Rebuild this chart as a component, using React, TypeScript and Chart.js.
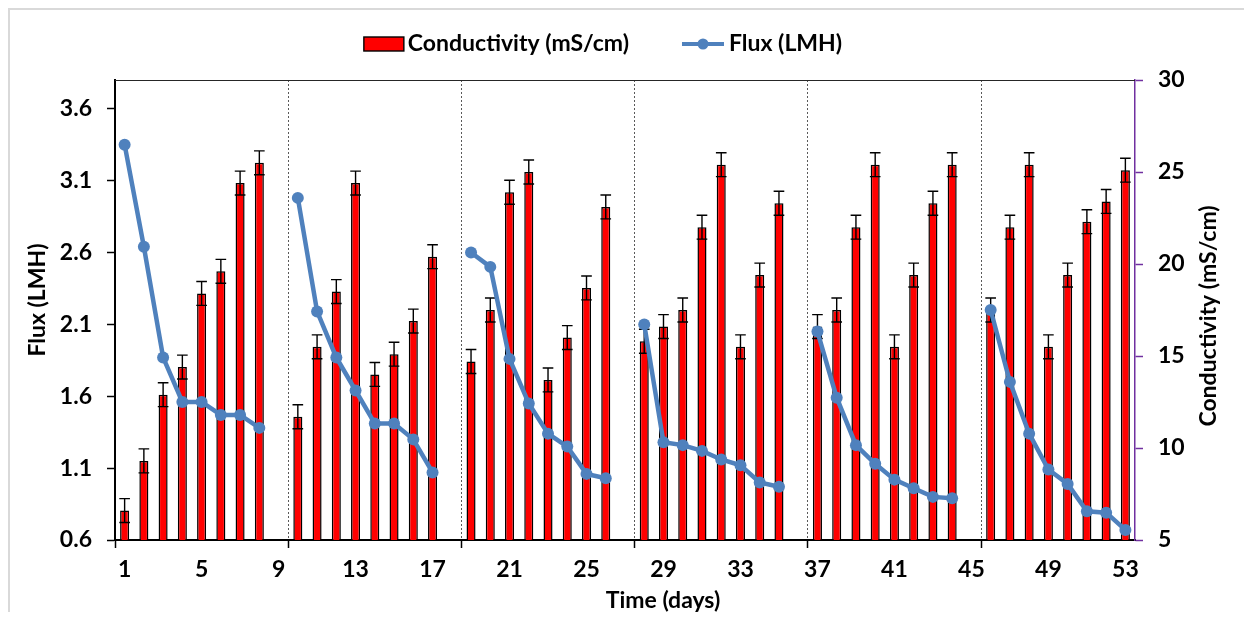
import React, { useEffect, useRef } from 'react';
import { Chart, registerables } from 'chart.js';

Chart.register(...registerables);

// ---------- data ----------
const DAYS = [
  '1', '2', '3', '4', '5', '6', '7', '8', '9', '10',
  '11', '12', '13', '14', '15', '16', '17', '18', '19', '20',
  '21', '22', '23', '24', '25', '26', '27', '28', '29', '30',
  '31', '32', '33', '34', '35', '36', '37', '38', '39', '40',
  '41', '42', '43', '44', '45', '46', '47', '48', '49', '50',
  '51', '52', '53',
];

const CONDUCTIVITY = [
  6.6, 9.3, 12.9, 14.4, 18.4, 19.6, 24.4, 25.5, null,
  11.7, 15.5, 18.5, 24.4, 14.0, 15.1, 16.9, 20.4, null,
  14.7, 17.5, 23.9, 25.0, 13.7, 16.0, 18.7, 23.1, null,
  15.8, 16.6, 17.5, 22.0, 25.4, 15.5, 19.4, 23.3, null,
  16.6, 17.5, 22.0, 25.4, 15.5, 19.4, 23.3, 25.4, null,
  17.5, 22.0, 25.4, 15.5, 19.4, 22.3, 23.4, 25.1,
];

const COND_ERROR = [
  0.65, 0.65, 0.65, 0.65, 0.65, 0.65, 0.65, 0.65, null,
  0.65, 0.65, 0.65, 0.65, 0.65, 0.65, 0.65, 0.65, null,
  0.65, 0.65, 0.65, 0.65, 0.65, 0.65, 0.65, 0.65, null,
  0.65, 0.65, 0.65, 0.65, 0.65, 0.65, 0.65, 0.65, null,
  0.65, 0.65, 0.65, 0.65, 0.65, 0.65, 0.65, 0.65, null,
  0.65, 0.65, 0.65, 0.65, 0.65, 0.65, 0.65, 0.65,
];

const FLUX = [
  3.35, 2.64, 1.87, 1.56, 1.56, 1.47, 1.47, 1.38, null,
  2.98, 2.19, 1.87, 1.64, 1.41, 1.41, 1.30, 1.07, null,
  2.60, 2.50, 1.86, 1.55, 1.34, 1.25, 1.06, 1.03, null,
  2.10, 1.28, 1.26, 1.22, 1.16, 1.12, 1.00, 0.97, null,
  2.05, 1.59, 1.26, 1.13, 1.02, 0.96, 0.90, 0.89, null,
  2.20, 1.70, 1.34, 1.09, 0.99, 0.80, 0.79, 0.67,
];

const FLUX_TICKS = [0.6, 1.1, 1.6, 2.1, 2.6, 3.1, 3.6];
const COND_TICKS = [5, 10, 15, 20, 25, 30];

const COND_LABEL = 'Conductivity (mS/cm)';
const FLUX_LABEL = 'Flux (LMH)';
const X_TITLE = 'Time (days)';

// ---------- styles ----------
const FONT = 'Lato';
const FS = 23;
const RED = '#FF0000';
const BLUE = '#4F81BD';
const PURPLE = '#7030A0';
const LABEL_EVERY = 4;
const GROUP_SIZE = 9;

const decorPlugin = {
  id: 'decor',
  beforeDraw(chart: any) {
    const { ctx, width, height } = chart;
    ctx.save();
    ctx.fillStyle = '#FFFFFF';
    ctx.fillRect(0, 0, width, height);
    ctx.strokeStyle = '#D9D9D9';
    ctx.lineWidth = 2;
    ctx.beginPath();
    ctx.moveTo(1, height);
    ctx.lineTo(1, 1);
    ctx.lineTo(width, 1);
    ctx.stroke();
    ctx.restore();
  },
  afterDatasetDraw(chart: any, args: any) {
    if (args.index !== 0) return;
    const meta = chart.getDatasetMeta(0);
    const yScale = chart.scales.yCond;
    const ctx = chart.ctx;
    ctx.save();
    ctx.strokeStyle = '#000000';
    ctx.lineWidth = 1.4;
    meta.data.forEach((bar: any, i: number) => {
      const v = CONDUCTIVITY[i];
      const e = COND_ERROR[i];
      if (v == null || e == null) return;
      const { x, width } = bar.getProps(['x', 'width'], true);
      const half = width / 2 + 0.8;
      const yTop = yScale.getPixelForValue(v + e);
      const yBot = yScale.getPixelForValue(v - e);
      ctx.beginPath();
      ctx.moveTo(x, yTop);
      ctx.lineTo(x, yBot);
      ctx.moveTo(x - half, yTop);
      ctx.lineTo(x + half, yTop);
      ctx.moveTo(x - half, yBot);
      ctx.lineTo(x + half, yBot);
      ctx.stroke();
    });
    ctx.restore();
  },
  afterDraw(chart: any) {
    const { ctx, chartArea } = chart;
    const { left, right, top, bottom } = chartArea;
    ctx.save();
    // top frame line of plot area
    ctx.strokeStyle = '#262626';
    ctx.lineWidth = 1;
    ctx.beginPath();
    ctx.moveTo(left, Math.round(top) + 0.5);
    ctx.lineTo(right, Math.round(top) + 0.5);
    ctx.stroke();

    ctx.fillStyle = '#000000';
    ctx.font = `bold ${FS}px ${FONT}`;
    ctx.textBaseline = 'middle';

    // legend
    const ly = top - 36;
    const w1 = ctx.measureText(COND_LABEL).width;
    const w2 = ctx.measureText(FLUX_LABEL).width;
    const boxW = 40, boxH = 14, gapBox = 4, gapItems = 53, lineW = 42, gapLine = 5;
    const total = boxW + gapBox + w1 + gapItems + lineW + gapLine + w2;
    const x0 = chart.width / 2 - 23 - total / 2;
    ctx.fillStyle = RED;
    ctx.fillRect(x0, ly - boxH / 2, boxW, boxH);
    ctx.strokeStyle = '#000000';
    ctx.lineWidth = 1.4;
    ctx.strokeRect(x0, ly - boxH / 2, boxW, boxH);
    ctx.fillStyle = '#000000';
    ctx.textAlign = 'left';
    ctx.fillText(COND_LABEL, x0 + boxW + gapBox, ly);
    const x1 = x0 + boxW + gapBox + w1 + gapItems;
    ctx.strokeStyle = BLUE;
    ctx.lineWidth = 4;
    ctx.beginPath();
    ctx.moveTo(x1, ly);
    ctx.lineTo(x1 + lineW, ly);
    ctx.stroke();
    ctx.fillStyle = BLUE;
    ctx.beginPath();
    ctx.arc(x1 + lineW / 2, ly, 5.5, 0, Math.PI * 2);
    ctx.fill();
    ctx.fillStyle = '#000000';
    ctx.fillText(FLUX_LABEL, x1 + lineW + gapLine, ly);

    // axis titles
    ctx.textAlign = 'center';
    ctx.fillText(X_TITLE, (left + right) / 2 + 38, chart.height - 11);
    const cy = (top + bottom) / 2;
    ctx.save();
    ctx.translate(left - 77, cy - 10);
    ctx.rotate(-Math.PI / 2);
    ctx.fillText(FLUX_LABEL, 0, 0);
    ctx.restore();
    ctx.save();
    ctx.translate(right + 74, cy + 6);
    ctx.rotate(-Math.PI / 2);
    ctx.fillText(COND_LABEL, 0, 0);
    ctx.restore();
    ctx.restore();
  },
};

export default function App() {
  const ref = useRef<HTMLCanvasElement | null>(null);

  useEffect(() => {
    if (!ref.current) return;
    const tickFont = { family: FONT, size: FS, weight: 'bold' as const };
    const chart = new Chart(ref.current, {
      type: 'bar',
      data: {
        labels: DAYS,
        datasets: [
          {
            type: 'bar',
            label: COND_LABEL,
            data: CONDUCTIVITY as any,
            yAxisID: 'yCond',
            backgroundColor: RED,
            borderColor: '#000000',
            borderWidth: 1.5,
            barPercentage: 0.47,
            categoryPercentage: 1,
            order: 2,
          },
          {
            type: 'line',
            label: FLUX_LABEL,
            data: FLUX as any,
            yAxisID: 'yFlux',
            borderColor: BLUE,
            backgroundColor: BLUE,
            borderWidth: 4.5,
            pointRadius: 6,
            pointHoverRadius: 6,
            pointBackgroundColor: BLUE,
            pointBorderColor: BLUE,
            pointBorderWidth: 0,
            tension: 0,
            spanGaps: false,
            order: 1,
          } as any,
        ],
      },
      options: {
        responsive: false,
        maintainAspectRatio: false,
        animation: false,
        layout: { padding: { top: 72, left: 0, right: 0, bottom: 0 } },
        plugins: {
          legend: { display: false },
          tooltip: { enabled: false },
        },
        scales: {
          x: {
            type: 'category',
            offset: true,
            grid: {
              display: true,
              offset: true,
              drawOnChartArea: true,
              lineWidth: 1,
              color: (c: any) =>
                c.index !== undefined && c.index > 0 && c.index % GROUP_SIZE === 0
                  ? '#595959'
                  : 'rgba(0,0,0,0)',
              tickLength: 8,
              tickWidth: 1.5,
              tickColor: (c: any) =>
                c.index !== undefined && c.index % GROUP_SIZE === 0 ? '#000000' : 'rgba(0,0,0,0)',
            },
            border: { display: true, color: '#000000', width: 2, dash: [2, 2] },
            ticks: {
              autoSkip: false,
              maxRotation: 0,
              minRotation: 0,
              padding: 8,
              color: '#000000',
              font: tickFont,
              callback: (_v: any, i: number) => (i % LABEL_EVERY === 0 ? DAYS[i] : ''),
            },
            afterFit: (s: any) => {
              s.height = 72;
            },
          },
          yFlux: {
            type: 'linear',
            position: 'left',
            min: 0.6,
            max: 3.8,
            afterBuildTicks: (s: any) => {
              s.ticks = FLUX_TICKS.map((v) => ({ value: v }));
            },
            grid: {
              drawOnChartArea: false,
              color: '#000000',
              tickLength: 8,
              tickWidth: 1.5,
            },
            border: { display: true, color: '#000000', width: 2 },
            ticks: {
              padding: 15,
              color: '#000000',
              font: tickFont,
              callback: (v: any) => Number(v).toFixed(1),
            },
            afterFit: (s: any) => {
              s.width = 107;
            },
          },
          yCond: {
            type: 'linear',
            position: 'right',
            min: 5,
            max: 30,
            afterBuildTicks: (s: any) => {
              s.ticks = COND_TICKS.map((v) => ({ value: v }));
            },
            grid: {
              drawOnChartArea: false,
              color: PURPLE,
              tickLength: 8,
              tickWidth: 1.5,
            },
            border: { display: true, color: PURPLE, width: 1.5 },
            ticks: {
              padding: 15,
              color: '#000000',
              font: tickFont,
              callback: (v: any) => String(v),
            },
            afterFit: (s: any) => {
              s.width = 109;
            },
          },
        },
      },
      plugins: [decorPlugin],
    });
    return () => chart.destroy();
  }, []);

  return (
    <div style={{ width: 1236, height: 604 }}>
      <canvas ref={ref} width={1236} height={604} style={{ display: 'block' }} />
    </div>
  );
}
